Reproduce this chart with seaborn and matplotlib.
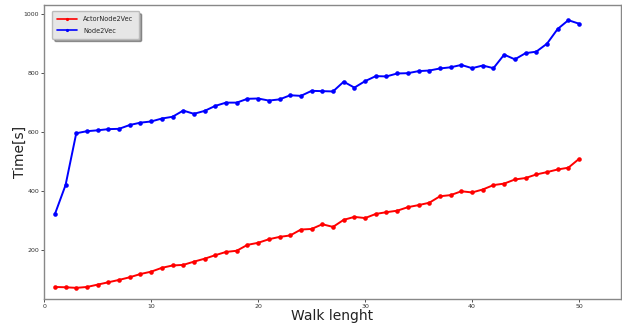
import numpy as np
import pandas as pd
import matplotlib
matplotlib.use("Agg")
import matplotlib.pyplot as plt
import seaborn as sns

# --- дані ---
walk_length = list(range(1, 51))

actor_node2vec = [74, 73, 71, 74, 82, 90, 98, 107, 118, 126,
                  139, 147, 149, 160, 170, 182, 193, 197, 217, 224,
                  236, 244, 249, 269, 271, 287, 278, 302, 312, 308,
                  322, 328, 333, 345, 352, 360, 382, 386, 399, 395,
                  405, 420, 425, 439, 444, 456, 464, 473, 479, 509]

node2vec = [321, 420, 596, 603, 606, 610, 611, 624, 632, 636,
            646, 652, 673, 662, 672, 689, 700, 700, 713, 714,
            707, 711, 725, 723, 740, 739, 738, 771, 751, 773,
            790, 789, 799, 800, 807, 809, 816, 820, 828, 817,
            826, 817, 863, 847, 868, 873, 900, 950, 980, 968]

series_names = ["ActorNode2Vec", "Node2Vec"]
series_colors = ["red", "blue"]

df = pd.DataFrame({
    "Walk lenght": walk_length * 2,
    "Time[s]": actor_node2vec + node2vec,
    "Method": [series_names[0]] * len(walk_length) + [series_names[1]] * len(walk_length),
})

sns.set_style("white")
plt.rcParams["font.family"] = ["DejaVu Sans"]

fig = plt.figure(figsize=(6.22, 3.24), dpi=100)
ax = fig.add_axes([0.071, 0.077, 0.927, 0.908])

sns.lineplot(data=df, x="Walk lenght", y="Time[s]", hue="Method",
             palette=dict(zip(series_names, series_colors)),
             marker="o", markersize=3.3, markeredgewidth=0,
             linewidth=1.4, ax=ax)

ax.set_xlim(0, 53.9)
ax.set_ylim(33, 1032)
ax.set_xticks([0, 10, 20, 30, 40, 50])
ax.set_yticks([200, 400, 600, 800, 1000])
ax.tick_params(axis="both", labelsize=4.5, length=2, width=0.6,
               direction="out", colors="#333333", pad=1.5,
               bottom=True, left=True)
for s in ax.spines.values():
    s.set_color("#888888")
    s.set_linewidth(1.0)

ax.set_xlabel("Walk lenght", fontsize=10, color="#222222")
ax.set_ylabel("Time[s]", fontsize=10, color="#222222")
ax.xaxis.set_label_coords(0.5, -0.058, transform=ax.transAxes)
ax.yaxis.set_label_coords(-0.042, 0.5, transform=ax.transAxes)
ax.xaxis.label.set_va("center")
ax.yaxis.label.set_va("center")

leg = ax.legend(loc="upper left", fontsize=4.7, frameon=True, fancybox=True,
                shadow=True, facecolor="#e6e6e6", edgecolor="#bbbbbb",
                framealpha=1, handlelength=3.1, borderpad=0.8,
                labelspacing=0.8, handletextpad=0.9,
                bbox_to_anchor=(0.008, 0.99))
for line in leg.get_lines():
    line.set_markersize(2.3)
    line.set_linewidth(1.2)

fig.savefig("out.png", dpi=100)
